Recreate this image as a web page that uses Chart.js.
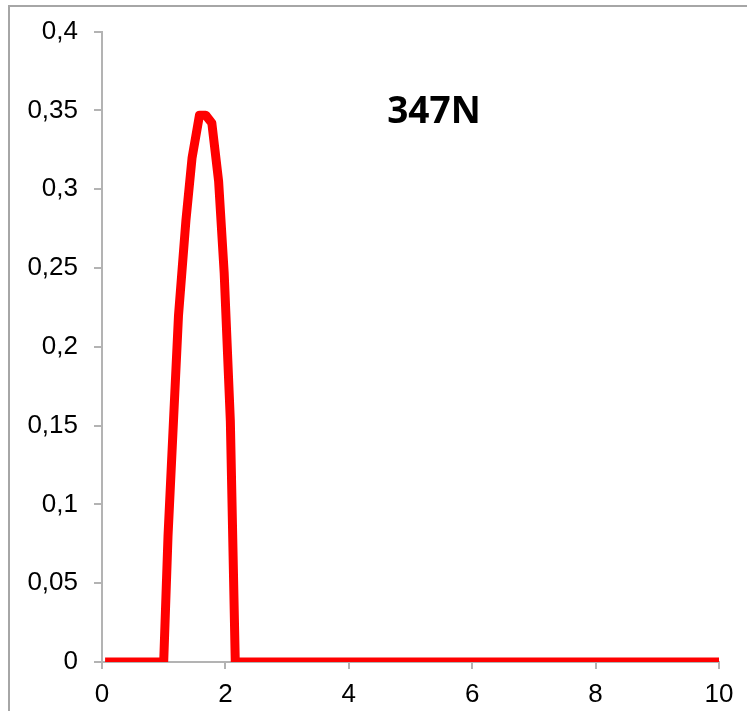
<!DOCTYPE html>
<html>
<head>
<meta charset="utf-8">
<script src="https://cdn.jsdelivr.net/npm/chart.js@4"></script>
<style>
html,body{margin:0;padding:0;background:#fff;}
#wrap{position:relative;width:747px;height:711px;}
</style>
</head>
<body>
<div id="wrap"><canvas id="c" width="747" height="711"></canvas></div>
<script>
const xValues = [0.05,0.2,0.3,0.4,0.5,0.6,0.7,0.8,0.9,1.0,1.07,1.24,1.36,1.46,1.58,1.68,1.78,1.89,1.98,2.08,2.16,2.3,2.5,3,4,5,6,7,8,9,10];
const yValues = [0,0,0,0,0,0,0,0,0,0,0.08,0.22,0.28,0.32,0.347,0.347,0.342,0.305,0.247,0.153,0,0,0,0,0,0,0,0,0,0,0];
const xTicks = [0,2,4,6,8,10];
const yTicks = [0,0.05,0.1,0.15,0.2,0.25,0.3,0.35,0.4];
const titleText = '347N';

const points = xValues.map((x,i)=>({x:x,y:yValues[i]}));
const fmt = v => String(Math.round(v*100)/100).replace('.',',');

const decor = {
  id:'decor',
  beforeDraw(chart){
    const ctx = chart.ctx;
    ctx.save();
    ctx.fillStyle='#fff';
    ctx.fillRect(0,0,chart.width,chart.height);
    ctx.strokeStyle='#a6a6a6';
    ctx.lineWidth=2;
    ctx.strokeRect(9,6,900,900);
    ctx.restore();
  },
  afterDatasetsDraw(chart){
    const ctx = chart.ctx;
    const xs = chart.scales.x, ys = chart.scales.y;
    ctx.save();
    ctx.fillStyle='#000';
    ctx.font='bold 37px "Open Sans", "DejaVu Sans", sans-serif';
    ctx.textAlign='center';
    ctx.textBaseline='middle';
    ctx.fillText(titleText, xs.getPixelForValue(5.38), ys.getPixelForValue(0.3485));
    ctx.restore();
  }
};

new Chart(document.getElementById('c'), {
  type:'line',
  data:{datasets:[{data:points,borderColor:'#ff0000',borderWidth:9,pointRadius:0,fill:false,tension:0,borderJoinStyle:'round'}]},
  options:{
    responsive:false,
    animation:false,
    devicePixelRatio:1,
    layout:{padding:{top:28,right:28,left:0,bottom:0}},
    plugins:{legend:{display:false},tooltip:{enabled:false},title:{display:false}},
    scales:{
      x:{
        type:'linear',min:0,max:10,
        afterBuildTicks(s){s.ticks = xTicks.map(v=>({value:v}));},
        afterFit(s){s.height=49;},
        grid:{display:true,drawOnChartArea:false,drawTicks:true,tickLength:7,color:'#b3b3b3',lineWidth:2},
        border:{display:true,color:'#b3b3b3',width:2},
        ticks:{color:'#000',font:{family:'"Liberation Sans", Arial, sans-serif',size:26},padding:10,maxRotation:0,callback:v=>fmt(v)}
      },
      y:{
        type:'linear',min:0,max:0.4,
        afterBuildTicks(s){s.ticks = yTicks.map(v=>({value:v}));},
        afterFit(s){s.width=102;},
        grid:{display:true,drawOnChartArea:false,drawTicks:true,tickLength:8,color:'#b3b3b3',lineWidth:2},
        border:{display:true,color:'#b3b3b3',width:2},
        ticks:{color:'#000',font:{family:'"Liberation Sans", Arial, sans-serif',size:26},padding:16,callback:v=>fmt(v)}
      }
    }
  },
  plugins:[decor]
});
</script>
</body>
</html>
